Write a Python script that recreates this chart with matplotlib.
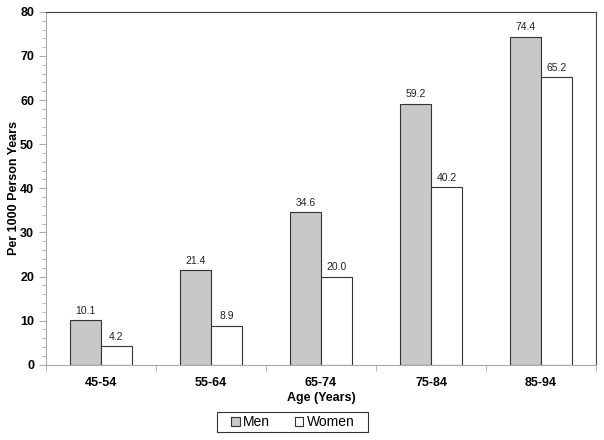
import numpy as np
import matplotlib.pyplot as plt
from matplotlib.ticker import MultipleLocator
from matplotlib.patches import Rectangle

plt.rcParams['font.family'] = ['Liberation Sans', 'DejaVu Sans']

age_groups = ['45-54', '55-64', '65-74', '75-84', '85-94']
men = [10.1, 21.4, 34.6, 59.2, 74.4]
women = [4.2, 8.9, 20.0, 40.2, 65.2]

fig = plt.figure(figsize=(6.04, 4.4), dpi=100)
ax = fig.add_axes([0.076, 0.171, 0.911, 0.802])

x = np.arange(len(age_groups))
w = 0.28
b1 = ax.bar(x - w / 2, men, w, color='#c8c8c8', edgecolor='#333333', linewidth=0.8, label='Men')
b2 = ax.bar(x + w / 2, women, w, color='white', edgecolor='#333333', linewidth=0.8, label='Women')

for bars, vals in [(b1, men), (b2, women)]:
    for r, v in zip(bars, vals):
        ax.text(r.get_x() + r.get_width() / 2, v + 1.0, '%.1f' % v,
                ha='center', va='bottom', fontsize=7.5, color='#222222')

ax.set_xlim(-0.5, len(age_groups) - 0.5)
ax.set_ylim(0, 80)
ax.yaxis.set_major_locator(MultipleLocator(10))
ax.yaxis.set_minor_locator(MultipleLocator(2))
ax.set_xticks(x)
ax.set_xticklabels(age_groups, fontweight='bold', fontsize=9)
ax.set_xticks(np.arange(-0.5, len(age_groups), 1), minor=True)
ax.tick_params(axis='x', which='major', length=0, pad=9)
ax.tick_params(axis='x', which='minor', length=4, color='#aaaaaa', direction='out')
ax.tick_params(axis='y', which='major', length=5, color='#aaaaaa', labelsize=9)
ax.tick_params(axis='y', which='minor', length=3, color='#aaaaaa')
for lbl in ax.get_yticklabels():
    lbl.set_fontweight('bold')

ax.spines['left'].set_color('#aaaaaa')
ax.spines['bottom'].set_color('#aaaaaa')
ax.spines['top'].set_color('#444444')
ax.spines['right'].set_color('#444444')

ax.set_xlabel('Age (Years)', fontweight='bold', fontsize=9, labelpad=2)
ax.set_ylabel('Per 1000 Person Years', fontweight='bold', fontsize=9, labelpad=0)

fig.legend(handles=[b1, b2], loc='center', bbox_to_anchor=(0.485, 0.04), ncol=2,
           frameon=False, fontsize=10,
           handlelength=0.6, handleheight=0.6, columnspacing=1.8, handletextpad=0.25)
# legend box drawn separately (wider padding than matplotlib's frame)
fig.patches.append(Rectangle((217 / 604, 8 / 440), 151 / 604, 20 / 440,
                             transform=fig.transFigure, fill=False,
                             edgecolor='#333333', linewidth=0.8))

fig.savefig('out.png', dpi=100)
